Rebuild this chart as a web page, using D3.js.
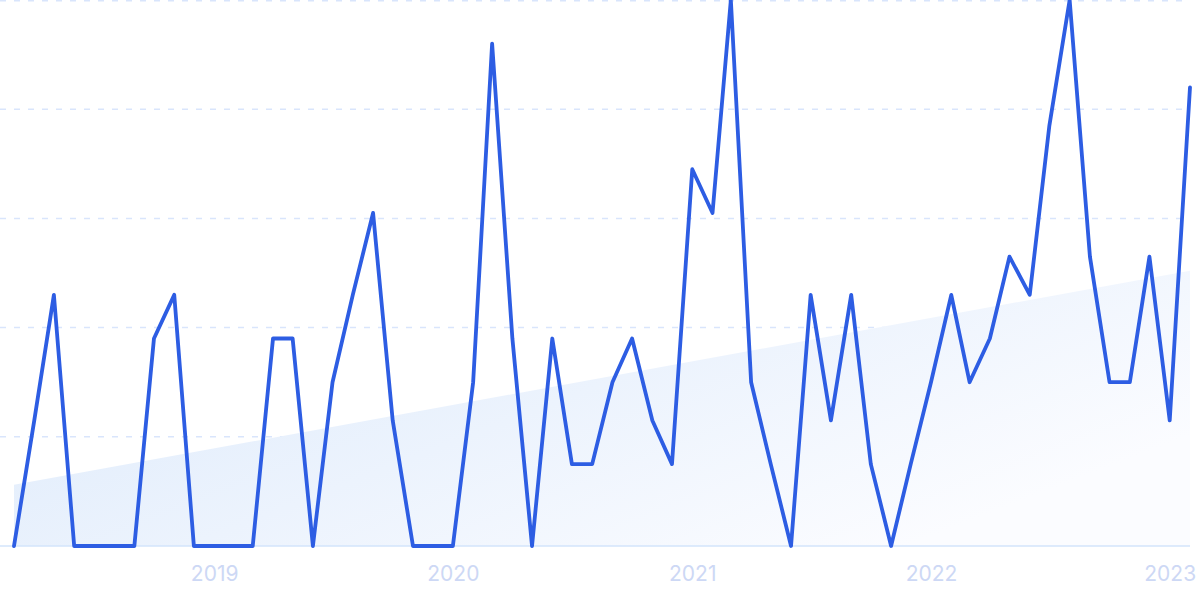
<!DOCTYPE html>
<html>
<head>
<meta charset="utf-8">
<script src="https://cdn.jsdelivr.net/npm/d3@7"></script>
<style>
html,body{margin:0;padding:0;background:#fff;}
svg{display:block;}
</style>
</head>
<body>
<svg id="chart" width="1200" height="599"></svg>
<script>
// ---- data ----
const startMonth = "2018-03";
const values = [
  0, 23, 46, 0, 0, 0, 0, 38, 46, 0,
  0, 0, 0, 38, 38, 0, 30, 46, 61, 23,
  0, 0, 0, 30, 92, 38, 0, 38, 15, 15,
  30, 38, 23, 15, 69, 61, 100, 30, 15, 0,
  46, 23, 46, 15, 0, 15, 30, 46, 30, 38,
  53, 46, 77, 100, 53, 30, 30, 53, 23, 84
];
const trendValues = [11.2, 50.4];
const gridTicks = [0, 20, 40, 60, 80, 100];
const yearTicks = ["2019", "2020", "2021", "2022", "2023"];

// ---- build ----
const parseMonth = d3.timeParse("%Y-%m");
const t0 = parseMonth(startMonth);
const series = values.map((v, i) => ({date: d3.timeMonth.offset(t0, i), value: v}));
const tEnd = series[series.length - 1].date;

const svg = d3.select("#chart");
const x = d3.scaleTime().domain([t0, tEnd]).range([14, 1190]);
const y = d3.scaleLinear().domain([0, 100]).range([546, 0]);

// gradient for trend area
const defs = svg.append("defs");
const grad = defs.append("linearGradient").attr("id", "trendGrad")
  .attr("x1", "0%").attr("y1", "0%").attr("x2", "100%").attr("y2", "60%");
grad.append("stop").attr("offset", "0%").attr("stop-color", "#dbe9fb");
grad.append("stop").attr("offset", "55%").attr("stop-color", "#ecf3fd");
grad.append("stop").attr("offset", "100%").attr("stop-color", "#fbfcff");

// gridlines
svg.append("g").selectAll("line").data(gridTicks.filter(d => d > 0)).join("line")
  .attr("x1", 0).attr("x2", 1190)
  .attr("y1", d => Math.max(y(d), 0.75)).attr("y2", d => Math.max(y(d), 0.75))
  .attr("stroke", "#d9e5fc").attr("stroke-width", 1.5)
  .attr("stroke-dasharray", "6,8");

// trend area
const trendData = [
  {date: t0, value: trendValues[0]},
  {date: tEnd, value: trendValues[1]}
];
svg.append("path").datum(trendData)
  .attr("fill", "url(#trendGrad)")
  .attr("d", d3.area().x(d => x(d.date)).y0(y(0)).y1(d => y(d.value)));

// baseline
svg.append("line")
  .attr("x1", 0).attr("x2", 1190).attr("y1", y(0)).attr("y2", y(0))
  .attr("stroke", "#d3e4fb").attr("stroke-width", 1.5);

// main line
svg.append("path").datum(series)
  .attr("fill", "none")
  .attr("stroke", "#2d5de3")
  .attr("stroke-width", 3.8)
  .attr("stroke-linejoin", "round")
  .attr("stroke-linecap", "round")
  .attr("d", d3.line().x(d => x(d.date)).y(d => y(d.value)));

// x axis labels
const axis = d3.axisBottom(x)
  .tickValues(yearTicks.map(s => d3.timeParse("%Y")(s)))
  .tickFormat(d3.timeFormat("%Y"))
  .tickSize(0);
const gx = svg.append("g").attr("transform", `translate(0,${y(0)})`).call(axis);
gx.select(".domain").remove();
gx.selectAll("text")
  .attr("y", 35).attr("dy", 0)
  .attr("fill", "#cdd8f5")
  .style("font-family", "Inter, 'Noto Sans', sans-serif")
  .style("font-size", "21px");
</script>
</body>
</html>
